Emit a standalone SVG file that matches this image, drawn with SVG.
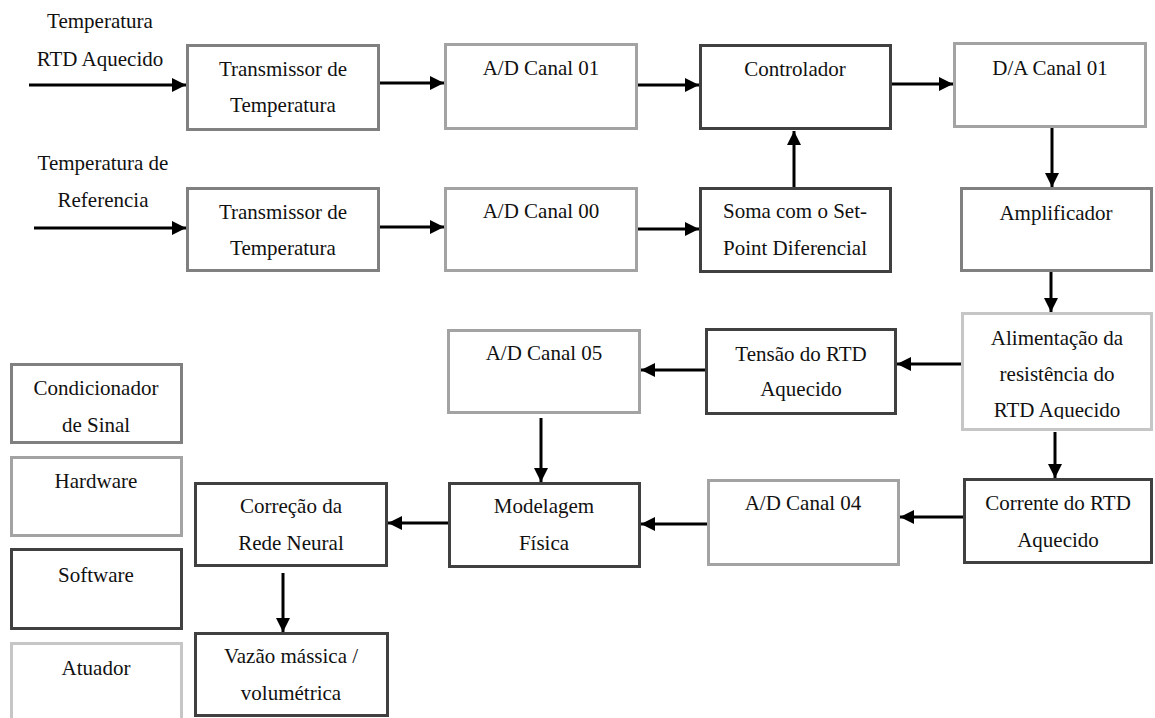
<svg xmlns="http://www.w3.org/2000/svg" width="1155" height="718" viewBox="0 0 1155 718">
<style>
text{font-size:21px;fill:#111;text-anchor:middle}
rect{fill:#fff;stroke-width:3}
.cond{stroke:#808080}
.hw{stroke:#a3a3a3}
.sw{stroke:#404040}
.act{stroke:#c6c6c6}
.c line{stroke:#000;stroke-width:3;marker-end:url(#ah)}
</style>
<defs>
<marker id="ah" viewBox="0 0 14 14" refX="14" refY="7" markerWidth="14" markerHeight="14" markerUnits="userSpaceOnUse" orient="auto">
<path d="M0,0 L14,7 L0,14 z" fill="#000"/>
</marker>
<clipPath id="clipAlim"><rect x="960" y="310" width="195" height="109"/></clipPath>
</defs>
<rect x="0" y="0" width="1155" height="718" fill="#fff" stroke="none"/>
<g font-family="Liberation Serif, DejaVu Serif, serif">
<g id="lbl-in1"><text x="100" y="28">Temperatura</text><text x="100" y="66">RTD Aquecido</text></g>
<g id="lbl-in2"><text x="103" y="170">Temperatura de</text><text x="103" y="207">Referencia</text></g>

<g id="trans1"><rect class="cond" x="187.5" y="45.5" width="191" height="84"/><text x="283" y="76">Transmissor de</text><text x="283" y="112">Temperatura</text></g>
<g id="ad01"><rect class="hw" x="445.5" y="44.5" width="191" height="84"/><text x="541" y="75">A/D Canal 01</text></g>
<g id="ctrl"><rect class="sw" x="700.5" y="45.5" width="190" height="83"/><text x="795" y="76">Controlador</text></g>
<g id="da01"><rect class="hw" x="954.5" y="43.5" width="191" height="83"/><text x="1050" y="75">D/A Canal 01</text></g>

<g id="trans2"><rect class="cond" x="187.5" y="188.5" width="191" height="82"/><text x="283" y="219">Transmissor de</text><text x="283" y="255">Temperatura</text></g>
<g id="ad00"><rect class="hw" x="445.5" y="188.5" width="191" height="82"/><text x="541" y="218">A/D Canal 00</text></g>
<g id="soma"><rect class="sw" x="700.5" y="188.5" width="190" height="83"/><text x="795" y="218">Soma com o Set-</text><text x="795" y="255">Point Diferencial</text></g>
<g id="amp"><rect class="cond" x="961.5" y="188.5" width="190" height="82"/><text x="1056" y="220">Amplificador</text></g>

<g id="alim"><rect class="act" x="962.5" y="313.5" width="189" height="116"/><g clip-path="url(#clipAlim)"><text x="1057" y="345">Alimentação da</text><text x="1057" y="381">resistência do</text><text x="1057" y="417">RTD Aquecido</text></g></g>
<g id="tensao"><rect class="sw" x="706.5" y="329.5" width="189" height="84"/><text x="801" y="361">Tensão do RTD</text><text x="801" y="396">Aquecido</text></g>
<g id="ad05"><rect class="hw" x="448.5" y="330.5" width="191" height="82"/><text x="544" y="360">A/D Canal 05</text></g>

<g id="corrente"><rect class="sw" x="964.5" y="479.5" width="187" height="83"/><text x="1058" y="510">Corrente do RTD</text><text x="1058" y="547">Aquecido</text></g>
<g id="ad04"><rect class="hw" x="708.5" y="480.5" width="190" height="84"/><text x="803" y="510">A/D Canal 04</text></g>
<g id="model"><rect class="sw" x="449.5" y="483.5" width="190" height="83"/><text x="544" y="513">Modelagem</text><text x="544" y="550">Física</text></g>
<g id="correcao"><rect class="sw" x="195.5" y="483.5" width="191" height="82"/><text x="291" y="513">Correção da</text><text x="291" y="550">Rede Neural</text></g>
<g id="vazao"><rect class="sw" x="195.5" y="633.5" width="192" height="82"/><text x="291" y="663">Vazão mássica /</text><text x="291" y="700">volumétrica</text></g>

<g id="leg-cond"><rect class="cond" x="11.5" y="364.5" width="170" height="78"/><text x="96" y="395">Condicionador</text><text x="96" y="432">de Sinal</text></g>
<g id="leg-hw"><rect class="hw" x="11.5" y="457.5" width="170" height="78"/><text x="96" y="488">Hardware</text></g>
<g id="leg-sw"><rect class="sw" x="11.5" y="549.5" width="170" height="79"/><text x="96" y="582">Software</text></g>
<g id="leg-act"><rect class="act" x="11.5" y="643.5" width="170" height="90"/><text x="96" y="675">Atuador</text></g>
</g>
<g id="connectors" class="c">
<line x1="29" y1="85" x2="186" y2="85"/>
<line x1="34" y1="228" x2="186" y2="228"/>
<line x1="380" y1="83" x2="444" y2="83"/>
<line x1="638" y1="85" x2="699" y2="85"/>
<line x1="892" y1="84" x2="953" y2="84"/>
<line x1="380" y1="227" x2="444" y2="227"/>
<line x1="638" y1="229" x2="699" y2="229"/>
<line x1="794" y1="187" x2="794" y2="131"/>
<line x1="1052" y1="128" x2="1052" y2="187"/>
<line x1="1051" y1="272" x2="1051" y2="312"/>
<line x1="961" y1="364" x2="897" y2="364"/>
<line x1="705" y1="370" x2="641" y2="370"/>
<line x1="541" y1="418" x2="541" y2="482"/>
<line x1="1055" y1="432" x2="1055" y2="478"/>
<line x1="963" y1="517" x2="900" y2="517"/>
<line x1="707" y1="524" x2="641" y2="524"/>
<line x1="448" y1="523" x2="388" y2="523"/>
<line x1="283" y1="573" x2="283" y2="632"/>
</g>
</svg>
